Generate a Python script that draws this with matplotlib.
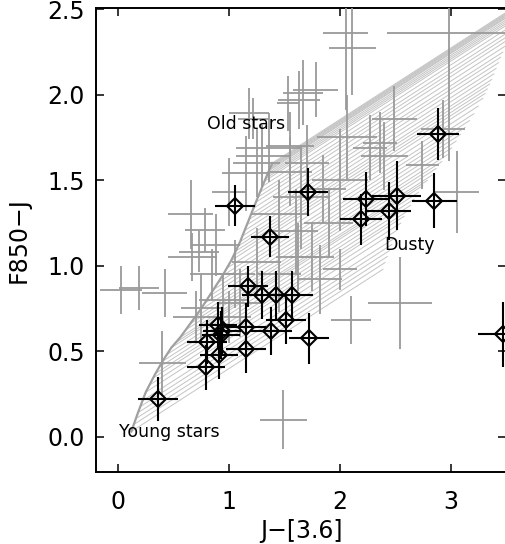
import matplotlib
matplotlib.use("Agg")
import matplotlib.pyplot as plt

plt.rcParams['font.family'] = ['DejaVu Sans']

# ---- model grid: age track (young -> old) and reddening vector ----
track_x = [0.12, 0.18, 0.25, 0.33, 0.40, 0.48, 0.56, 0.65, 0.74, 0.84, 0.94,
           1.02, 1.10, 1.18, 1.26, 1.33, 1.39]
track_y = [0.03, 0.14, 0.26, 0.36, 0.44, 0.52, 0.58, 0.66, 0.74, 0.84, 0.94,
           1.03, 1.14, 1.27, 1.40, 1.51, 1.60]

# start points of the reddened model lines
line_x0 = [0.12, 0.14, 0.16, 0.18, 0.20, 0.22, 0.25, 0.28, 0.31, 0.34, 0.37,
           0.40, 0.44, 0.48, 0.52, 0.56, 0.60, 0.65, 0.70, 0.74, 0.78, 0.82,
           0.86, 0.90, 0.94, 0.98, 1.02, 1.04, 1.06, 1.08, 1.10, 1.12, 1.14,
           1.16, 1.18, 1.20, 1.22, 1.24, 1.26, 1.28, 1.30, 1.32, 1.33, 1.34,
           1.35, 1.36, 1.365, 1.37, 1.375, 1.38, 1.385, 1.39]
line_y0 = [0.03, 0.07, 0.105, 0.14, 0.175, 0.21, 0.26, 0.30, 0.34, 0.37, 0.405,
           0.44, 0.48, 0.52, 0.55, 0.58, 0.62, 0.66, 0.70, 0.74, 0.78, 0.82,
           0.86, 0.90, 0.94, 0.985, 1.03, 1.058, 1.085, 1.113, 1.14, 1.173, 1.205,
           1.238, 1.27, 1.30, 1.335, 1.37, 1.40, 1.43, 1.463, 1.494, 1.51, 1.525,
           1.54, 1.555, 1.562, 1.57, 1.578, 1.585, 1.592, 1.60]
dust_dx = 2.27
dust_dy = 0.95

# ---- gray sample (error crosses) ----
gray_x = [2.05, 2.11, 2.98, 1.67, 1.63, 1.78, 1.53, 1.18, 1.22, 2.06, 2.49, 2.36,
          2.40, 2.74, 3.05, 2.27, 2.93, 1.36, 1.30, 1.25, 1.15, 1.00, 1.55, 1.65,
          1.85, 1.45, 1.90, 1.60, 2.00, 0.655, 0.78, 0.67, 0.73, 0.03, 0.19, 0.42,
          0.40, 0.85, 0.95, 1.00, 0.75, 1.49, 2.10, 2.54, 2.00, 1.82, 1.75, 1.25,
          1.45, 1.62, 1.10, 0.88, 1.05, 1.55, 1.70, 0.70]
gray_y = [2.36, 2.27, 2.36, 2.01, 1.97, 2.03, 1.95, 1.89, 1.86, 1.75, 1.86, 1.72,
          1.64, 1.59, 1.43, 1.69, 1.80, 1.69, 1.64, 1.60, 1.54, 1.43, 1.55, 1.40,
          1.45, 1.30, 1.25, 1.20, 1.50, 1.30, 1.21, 1.05, 1.08, 0.86, 0.87, 0.84,
          0.43, 0.95, 0.80, 0.70, 0.75, 0.10, 0.68, 0.78, 0.98, 0.92, 1.05, 1.02,
          0.95, 1.05, 0.78, 1.12, 0.95, 1.70, 1.60, 0.70]
gray_xerr = [0.20, 0.21, 0.56, 0.18, 0.19, 0.20, 0.10, 0.18, 0.14, 0.27, 0.20, 0.15,
             0.21, 0.15, 0.20, 0.15, 0.20, 0.30, 0.24, 0.21, 0.21, 0.15, 0.20, 0.25,
             0.20, 0.25, 0.22, 0.20, 0.25, 0.20, 0.18, 0.22, 0.18, 0.19, 0.18, 0.20,
             0.21, 0.20, 0.22, 0.20, 0.18, 0.21, 0.18, 0.29, 0.15, 0.20, 0.20, 0.22,
             0.20, 0.20, 0.20, 0.22, 0.18, 0.22, 0.20, 0.20]
gray_yerr = [0.45, 0.27, 0.75, 0.19, 0.17, 0.16, 0.16, 0.15, 0.12, 0.25, 0.19, 0.18,
             0.20, 0.14, 0.24, 0.19, 0.17, 0.20, 0.18, 0.20, 0.22, 0.20, 0.20, 0.30,
             0.20, 0.20, 0.20, 0.25, 0.30, 0.20, 0.13, 0.14, 0.12, 0.14, 0.13, 0.14,
             0.19, 0.15, 0.15, 0.15, 0.20, 0.17, 0.14, 0.27, 0.12, 0.20, 0.20, 0.20,
             0.22, 0.20, 0.20, 0.18, 0.20, 0.20, 0.22, 0.15]

# ---- black diamond sample ----
blk_x = [0.36, 0.79, 0.80, 0.91, 0.90, 0.94, 0.93, 1.15, 1.15, 1.17, 1.30, 1.42,
         1.57, 1.51, 1.38, 1.72, 1.05, 1.37, 1.71, 2.19, 2.23, 2.44, 2.51, 2.85,
         2.88, 3.47]
blk_y = [0.22, 0.405, 0.555, 0.48, 0.65, 0.62, 0.595, 0.64, 0.51, 0.88, 0.83, 0.83,
         0.83, 0.68, 0.62, 0.575, 1.35, 1.17, 1.43, 1.27, 1.39, 1.32, 1.41, 1.38,
         1.77, 0.60]
blk_xerr = [0.18, 0.17, 0.18, 0.17, 0.17, 0.17, 0.17, 0.18, 0.18, 0.18, 0.18, 0.18,
            0.19, 0.18, 0.19, 0.18, 0.18, 0.17, 0.18, 0.19, 0.20, 0.20, 0.22, 0.20,
            0.19, 0.23]
blk_yerr = [0.13, 0.13, 0.13, 0.14, 0.14, 0.14, 0.14, 0.14, 0.14, 0.12, 0.14, 0.14,
            0.14, 0.14, 0.14, 0.15, 0.12, 0.12, 0.14, 0.15, 0.16, 0.17, 0.20, 0.16,
            0.15, 0.19]

labels = [("Old stars", 0.80, 1.80), ("Dusty", 2.40, 1.09), ("Young stars", 0.005, 0.0)]

fig = plt.figure(figsize=(5.06, 5.44), dpi=100)
ax = fig.add_axes([96 / 506, 72.3 / 544, 410 / 506, 463.4 / 544])

for x0, y0 in zip(line_x0, line_y0):
    ax.plot([x0, x0 + dust_dx], [y0, y0 + dust_dy], color='#c4c4c4', lw=0.7,
            zorder=1, solid_capstyle='butt')
ax.plot(track_x, track_y, color='#a0a0a0', lw=1.6, zorder=2)

ax.errorbar(gray_x, gray_y, xerr=gray_xerr, yerr=gray_yerr, fmt='none',
            ecolor='#9a9a9a', elinewidth=1.3, capsize=0, zorder=3)
ax.errorbar(blk_x, blk_y, xerr=blk_xerr, yerr=blk_yerr, fmt='D', ms=8,
            mfc='none', mec='black', mew=1.5, ecolor='black', elinewidth=1.5,
            capsize=0, zorder=4)

for txt, tx, ty in labels:
    ax.text(tx, ty, txt, fontsize=12.5, color='black', ha='left', va='baseline',
            zorder=5)

ax.set_xlim(-0.198, 3.495)
ax.set_ylim(-0.205, 2.505)
ax.set_xticks([0, 1, 2, 3])
ax.set_yticks([0.0, 0.5, 1.0, 1.5, 2.0, 2.5])
ax.set_yticklabels(['0.0', '0.5', '1.0', '1.5', '2.0', '2.5'])
ax.tick_params(direction='in', length=6, width=1.1, top=True, right=True,
               labelsize=17)
ax.tick_params(axis='x', pad=13)
ax.tick_params(axis='y', pad=8)
for s in ['left', 'bottom', 'top']:
    ax.spines[s].set_linewidth(1.4)
ax.spines['right'].set_visible(False)
ax.set_xlabel('J\u2212[3.6]', fontsize=17, labelpad=4)
ax.set_ylabel('F850\u2212J', fontsize=17, labelpad=12)

fig.savefig('out.png', dpi=100)
